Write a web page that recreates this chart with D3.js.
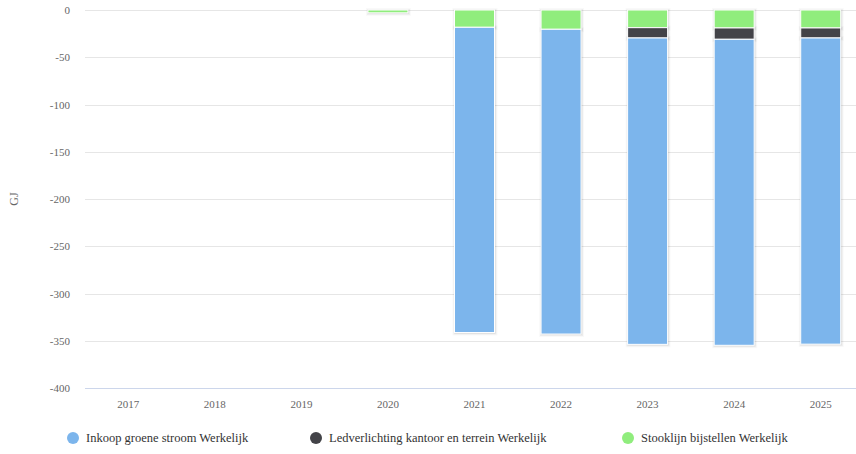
<!DOCTYPE html>
<html><head><meta charset="utf-8">
<script src="https://cdn.jsdelivr.net/npm/d3@7/dist/d3.min.js"></script>
<style>body{margin:0;background:#fff}svg{display:block}svg text{font-family:"Liberation Serif","Times New Roman","DejaVu Serif",serif}</style>
</head><body><svg id="c" width="856" height="454"></svg>
<script>
const years = ["2017","2018","2019","2020","2021","2022","2023","2024","2025"];
const seriesNames = ["Stooklijn bijstellen Werkelijk","Ledverlichting kantoor en terrein Werkelijk","Inkoop groene stroom Werkelijk"];
const stooklijn = [0,0,0,-3,-18.3,-20.4,-18.7,-19,-19];
const ledverlichting = [0,0,0,0,0,0,-10.9,-12,-10.6];
const inkoop = [0,0,0,0,-323,-322.5,-324.2,-323.8,-324];
const colors = ["#90ed7d","#434348","#7cb5ec"];
const yTicks = [0,-50,-100,-150,-200,-250,-300,-350,-400];
const legendOrder = [{name:"Inkoop groene stroom Werkelijk",color:"#7cb5ec"},{name:"Ledverlichting kantoor en terrein Werkelijk",color:"#434348"},{name:"Stooklijn bijstellen Werkelijk",color:"#90ed7d"}];

const FONT = '"Liberation Serif","Times New Roman","DejaVu Serif",serif';
const svg = d3.select("#c");
const mLeft = 85, mTop = 10, plotW = 779, plotH = 378;
const y = d3.scaleLinear().domain([-400,0]).range([mTop+plotH, mTop]);
const x = d3.scaleBand().domain(years).range([mLeft, mLeft+plotW]);
const bw = 40;

svg.append("g").selectAll("line").data(yTicks).join("line")
  .attr("x1",mLeft).attr("x2",mLeft+plotW)
  .attr("y1",d=>Math.round(y(d))+0.5).attr("y2",d=>Math.round(y(d))+0.5)
  .attr("stroke",d=>d===-400?"#ccd6eb":"#e6e6e6").attr("stroke-width",1);

svg.append("g").selectAll("text").data(yTicks).join("text")
  .attr("x",70).attr("y",d=>y(d)+4).attr("text-anchor","end").attr("font-family",FONT)
  .attr("font-size",11).attr("fill","#666").text(d=>d);

svg.append("text").attr("transform",`translate(18,${mTop+plotH/2}) rotate(-90)`).attr("font-family",FONT)
  .attr("text-anchor","middle").attr("font-size",12).attr("fill","#666").text("GJ");

svg.append("g").selectAll("text").data(years).join("text")
  .attr("x",d=>x(d)+x.bandwidth()/2).attr("y",408).attr("text-anchor","middle").attr("font-family",FONT)
  .attr("font-size",11).attr("fill","#666").text(d=>d);

const data = years.map((yr,i)=>({year:yr, s0:stooklijn[i], s1:ledverlichting[i], s2:inkoop[i]}));
const stack = d3.stack().keys(["s0","s1","s2"]).offset(d3.stackOffsetDiverging);
const layers = stack(data);

const g = svg.append("g");
function segs(cb){
  layers.forEach((layer,li)=>{
    layer.forEach(seg=>{
      const v0 = seg[0], v1 = seg[1];
      if (v0===v1) return;
      const bx = x(seg.data.year)+x.bandwidth()/2-bw/2;
      const y0 = y(Math.max(v0,v1)), y1 = y(Math.min(v0,v1));
      cb(li,bx,y0,y1);
    });
  });
}
segs((li,bx,y0,y1)=>{
  [5,3,1].forEach((w,k)=>{
    g.append("rect").attr("x",bx+0.5).attr("y",y0+0.5).attr("width",bw).attr("height",y1-y0)
      .attr("fill","none").attr("stroke","#000").attr("stroke-opacity",0.025*(k+1)).attr("stroke-width",w);
  });
});
segs((li,bx,y0,y1)=>{
  g.append("rect").attr("x",bx).attr("y",y0).attr("width",bw).attr("height",y1-y0)
    .attr("fill",colors[li]).attr("stroke","#ffffff").attr("stroke-width",1);
});

const lx = [73,316,628];
legendOrder.forEach((d,i)=>{
  svg.append("circle").attr("cx",lx[i]).attr("cy",438).attr("r",6).attr("fill",d.color);
  svg.append("text").attr("x",lx[i]+13).attr("y",442).attr("font-family",FONT).attr("font-size",12.5).attr("fill","#333").text(d.name);
});
</script></body></html>
